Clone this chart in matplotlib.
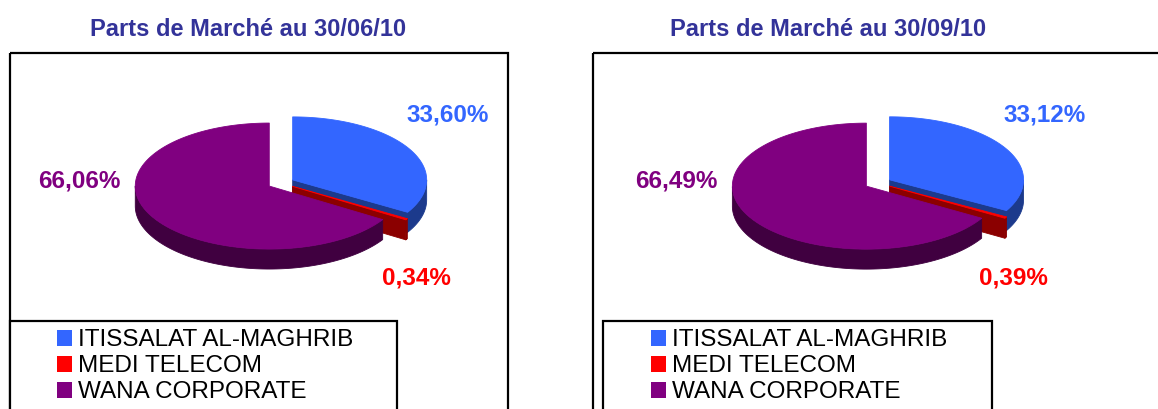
import numpy as np
import matplotlib
matplotlib.use("Agg")
import matplotlib.pyplot as plt
from matplotlib.patches import Polygon, Rectangle

# ---------------- data ----------------
operators = ["ITISSALAT AL-MAGHRIB", "MEDI TELECOM", "WANA CORPORATE"]
share_jun = [33.60, 0.34, 66.06]
share_sep = [33.12, 0.39, 66.49]
titles = ["Parts de Marché au 30/06/10", "Parts de Marché au 30/09/10"]

top_colors = ["#3366FF", "#FF0000", "#800080"]
side_colors = ["#1C3A8C", "#8B0000", "#400040"]
label_colors = ["#3366FF", "#FF0000", "#800080"]
title_color = "#333399"

W, H = 1158, 410
fig = plt.figure(figsize=(W / 100, H / 100), dpi=100)
ax = fig.add_axes([0, 0, 1, 1])
ax.set_xlim(0, W)
ax.set_ylim(H, 0)
ax.axis("off")

FONT = "Liberation Sans"
A, B, DEPTH, EXPLODE = 134, 63, 20, 0.10


def ell(cx, cy, t):
    t = np.radians(t)
    return cx + A * np.cos(t), cy - B * np.sin(t)


def draw_pie3d(cx, cy, values):
    total = sum(values)
    cum = 0.0
    for i, v in enumerate(values):
        t2 = 90 - cum / total * 360
        cum += v
        t1 = 90 - cum / total * 360
        mid = np.radians((t1 + t2) / 2)
        ox = cx + EXPLODE * A * np.cos(mid)
        oy = cy - EXPLODE * B * np.sin(mid)
        kw = dict(lw=0.6, joinstyle="round")
        # cut faces
        for ang, sgn in ((t1, -1), (t2, 1)):
            nrm = np.radians(ang + sgn * 90)
            if np.sin(nrm) < -1e-6:
                rx, ry = ell(ox, oy, ang)
                poly = [(ox, oy), (rx, ry), (rx, ry + DEPTH), (ox, oy + DEPTH)]
                ax.add_patch(Polygon(poly, closed=True, fc=side_colors[i],
                                     ec=side_colors[i], **kw))
        # outer wall (front part only)
        ts = np.linspace(t1, t2, 400)
        front = np.sin(np.radians(ts)) <= 0
        runs = []
        cur = []
        for t, f in zip(ts, front):
            if f:
                cur.append(t)
            elif cur:
                runs.append(cur)
                cur = []
        if cur:
            runs.append(cur)
        for run in runs:
            run = np.array(run)
            xs, ys = ell(ox, oy, run)
            pts = list(zip(xs, ys)) + list(zip(xs[::-1], ys[::-1] + DEPTH))
            ax.add_patch(Polygon(pts, closed=True, fc=side_colors[i],
                                 ec=side_colors[i], **kw))
        # top face
        xs, ys = ell(ox, oy, ts)
        pts = [(ox, oy)] + list(zip(xs, ys))
        ax.add_patch(Polygon(pts, closed=True, fc=top_colors[i],
                             ec=top_colors[i], **kw))


panels = [
    dict(values=share_jun, title=titles[0], title_x=248, frame=(10, 508),
         center=(281, 184), legend=(10, 397), sq_x=57, txt_x=78),
    dict(values=share_sep, title=titles[1], title_x=828, frame=(593, 1170),
         center=(878, 184), legend=(603, 992), sq_x=651, txt_x=672),
]
label_off = [(167, -69), (135, 94), (-202, -3)]

for p in panels:
    ax.text(p["title_x"], 29, p["title"], ha="center", va="center",
            fontsize=17, fontweight="bold", color=title_color, family=FONT)
    fx0, fx1 = p["frame"]
    ax.add_patch(Rectangle((fx0, 54), fx1 - fx0, 400, fill=False,
                           ec="black", lw=1.6))
    cx, cy = p["center"]
    draw_pie3d(cx, cy, p["values"])
    for i, v in enumerate(p["values"]):
        txt = f"{v:.2f}%".replace(".", ",")
        ax.text(cx + label_off[i][0], cy + label_off[i][1], txt,
                ha="center", va="center", fontsize=17.5, fontweight="bold",
                color=label_colors[i], family=FONT)
    lx0, lx1 = p["legend"]
    ax.add_patch(Rectangle((lx0, 322), lx1 - lx0, 120, fc="white",
                           ec="black", lw=1.6))
    for i, name in enumerate(operators):
        yc = 339 + i * 26
        ax.add_patch(Rectangle((p["sq_x"], yc - 8), 15, 16, fc=top_colors[i],
                               ec="none"))
        ax.text(p["txt_x"], yc + 1, name, ha="left", va="center",
                fontsize=17.5, color="black", family=FONT)

fig.savefig("out.png", dpi=100, facecolor="white")
